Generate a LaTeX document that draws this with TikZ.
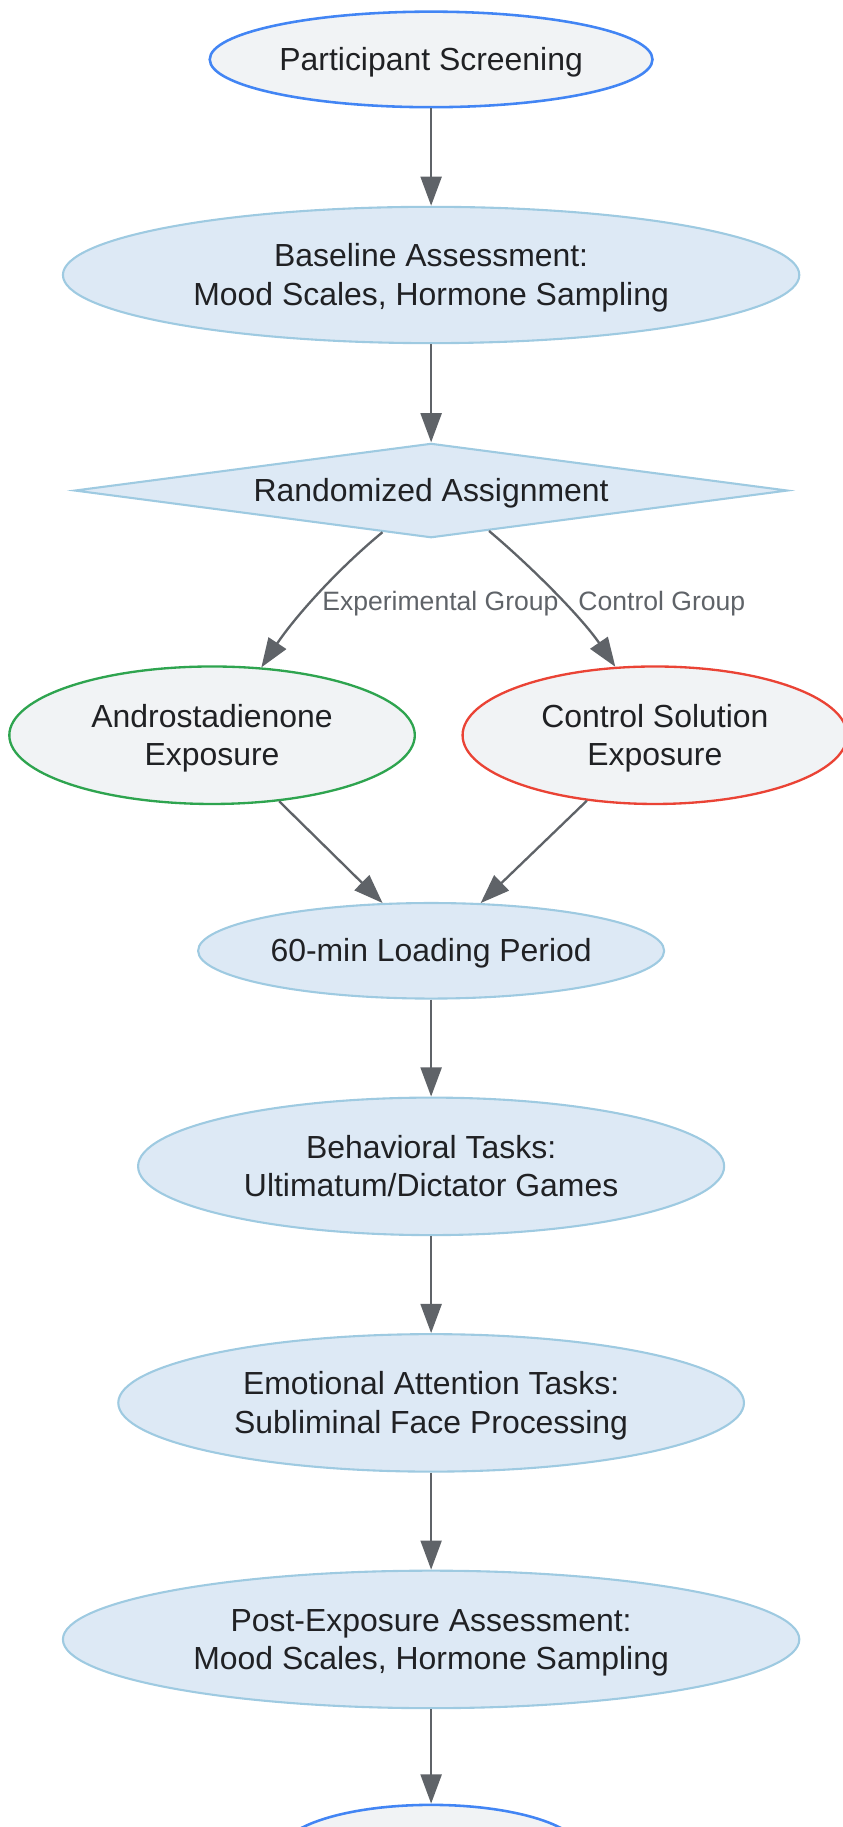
\documentclass[tikz,border=0pt]{standalone}
\usepackage{fontspec}
\setmainfont{Liberation Sans}
\usetikzlibrary{shapes.geometric,arrows.meta,calc}
\definecolor{lbfill}{HTML}{DDE9F5}
\definecolor{lbline}{HTML}{9ECAE1}
\definecolor{gfill}{HTML}{F1F3F5}
\definecolor{bline}{HTML}{4285F4}
\definecolor{gline}{HTML}{2EA44F}
\definecolor{rline}{HTML}{EA4335}
\definecolor{arrowc}{HTML}{5F6368}
\definecolor{txtc}{HTML}{202124}
\newcommand{\lbl}[1]{\raisebox{-3pt}[\height][\depth]{\begin{tabular}{@{}c@{}}#1\end{tabular}}}
\begin{document}
\begin{tikzpicture}[x=1pt,y=-1pt,
  base/.style={ellipse, inner sep=0pt, align=center, text=txtc,
    font=\fontsize{27.4}{33}\selectfont},
  procnode/.style={base, fill=lbfill, draw=lbline, line width=1.8pt},
  termnode/.style={base, fill=gfill, draw=bline, line width=2.2pt},
  expnode/.style={base, fill=gfill, draw=gline, line width=2pt},
  ctrlnode/.style={base, fill=gfill, draw=rline, line width=2pt},
  decnode/.style={diamond, shape aspect=7.5, inner sep=0pt, align=center, text=txtc,
    fill=lbfill, draw=lbline, line width=1.8pt,
    font=\fontsize{27.4}{33}\selectfont},
  elabel/.style={text=arrowc, font=\fontsize{22.8}{27}\selectfont, inner sep=0pt},
  flow/.style={draw=arrowc, line width=2pt, -{Triangle[length=25pt,width=18pt]}}
]
\useasboundingbox (0,0) rectangle (723,1568);

\node[termnode, minimum width=380pt, minimum height=82pt] (screen) at (370,51) {\lbl{Participant Screening}};
\node[procnode, minimum width=632pt, minimum height=117pt] (baseline) at (370,236) {\lbl{Baseline Assessment:\\Mood Scales, Hormone Sampling}};
\node[decnode, minimum width=612pt, minimum height=81pt] (rand) at (370,421) {\lbl{Randomized Assignment}};
\node[expnode, minimum width=348pt, minimum height=118pt] (andro) at (182,631) {\lbl{Androstadienone\\Exposure}};
\node[ctrlnode, minimum width=330pt, minimum height=118pt] (ctrl) at (562,631) {\lbl{Control Solution\\Exposure}};
\node[procnode, minimum width=400pt, minimum height=82pt] (load) at (370,816) {\lbl{60-min Loading Period}};
\node[procnode, minimum width=503pt, minimum height=118pt] (behav) at (370,1001) {\lbl{Behavioral Tasks:\\Ultimatum/Dictator Games}};
\node[procnode, minimum width=537pt, minimum height=118pt] (emot) at (370,1204) {\lbl{Emotional Attention Tasks:\\Subliminal Face Processing}};
\node[procnode, minimum width=632pt, minimum height=118pt] (post) at (370,1407) {\lbl{Post-Exposure Assessment:\\Mood Scales, Hormone Sampling}};
\node[termnode, minimum width=260pt, minimum height=82pt] (final) at (370,1590) {};

\node[elabel] (lexp) at (378,518) {Experimental Group};
\node[elabel] (lctrl) at (568,518) {Control Group};

\draw[flow] (screen) -- (baseline);
\draw[flow] (baseline) -- (rand);

\coordinate (s1) at ($(rand.south)!0.136!(rand.west)$);
\coordinate (s2) at ($(rand.south)!0.162!(rand.east)$);
\draw[flow] (s1) .. controls (288,490) and (252,531) .. (andro.54);
\draw[flow] (s2) .. controls (458,488) and (500,531) .. (ctrl.120);

\draw[flow] (andro) -- (load);
\draw[flow] (ctrl) -- (load);
\draw[flow] (load) -- (behav);
\draw[flow] (behav) -- (emot);
\draw[flow] (emot) -- (post);
\draw[flow] (post) -- (final);
\end{tikzpicture}
\end{document}
